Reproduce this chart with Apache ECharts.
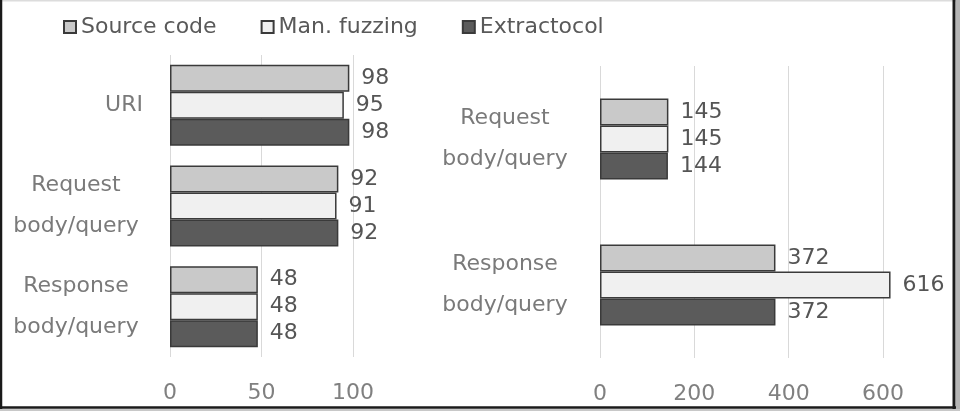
<!DOCTYPE html>
<html>
<head>
<meta charset="utf-8">
<script src="https://cdn.jsdelivr.net/npm/echarts@6/dist/echarts.min.js"></script>
<style>
html,body{margin:0;padding:0;background:#fff;}
#c{width:960px;height:411px;}
</style>
</head>
<body>
<div id="c"></div>
<script>
// ---- data ----
var seriesNames = ['Source code', 'Man. fuzzing', 'Extractocol'];
var leftCategories = ['URI', 'Request\nbody/query', 'Response\nbody/query'];
var leftSource = [98, 92, 48];
var leftManual = [95, 91, 48];
var leftExtract = [98, 92, 48];
var rightCategories = ['Request\nbody/query', 'Response\nbody/query'];
var rightSource = [145, 372];
var rightManual = [145, 616];
var rightExtract = [144, 372];
var leftTicks = {min: 0, max: 100, interval: 50};
var rightTicks = {min: 0, max: 600, interval: 200};

// ---- style ----
var FONT = 'DejaVu Sans';
var FS = 22;
var fills = ['#c9c9c9', '#f0f0f0', '#5b5b5b'];
var leftVals = [leftSource, leftManual, leftExtract];
var rightVals = [rightSource, rightManual, rightExtract];

function catFormatter(v) {
  var lines = v.split('\n');
  if (lines.length === 1) return '{r|' + v + '}';
  return lines.map(function (l) { return '{c|' + l + '}'; }).join('\n');
}
function catAxis(idx, margin) {
  return {
    type: 'category', gridIndex: idx, inverse: true,
    data: idx === 0 ? leftCategories : rightCategories,
    axisLine: {show: false}, axisTick: {show: false},
    axisLabel: {
      align: 'right', margin: margin, formatter: catFormatter,
      color: '#7a7a7a', fontFamily: FONT, fontSize: FS,
      rich: {
        c: {width: 134, align: 'center', lineHeight: 41, color: '#7a7a7a', fontFamily: FONT, fontSize: FS},
        r: {align: 'right', color: '#7a7a7a', fontFamily: FONT, fontSize: FS}
      }
    }
  };
}
function valAxis(idx, t) {
  return {
    type: 'value', gridIndex: idx, min: t.min, max: t.max, interval: t.interval,
    axisLine: {show: false}, axisTick: {show: false},
    splitLine: {show: true, lineStyle: {color: '#d9d9d9', width: 1}},
    axisLabel: {color: '#808080', fontFamily: FONT, fontSize: FS, margin: 25}
  };
}
var series = [];
[leftVals, rightVals].forEach(function (vals, gi) {
  vals.forEach(function (d, si) {
    series.push({
      type: 'bar', name: seriesNames[si], data: d,
      xAxisIndex: gi, yAxisIndex: gi,
      barWidth: 27, barGap: '0%', clip: false,
      itemStyle: {color: fills[si], borderColor: '#3a3a3a', borderWidth: 1.5},
      label: {show: true, position: 'right', distance: 12, color: '#555555', fontFamily: FONT, fontSize: FS},
      animation: false
    });
  });
});

var chart = echarts.init(document.getElementById('c'), null, {renderer: 'canvas'});
chart.setOption({
  animation: false,
  backgroundColor: '#ffffff',
  legend: {
    data: seriesNames, left: 58, top: 11, icon: 'rect', itemWidth: 12, itemHeight: 12, itemGap: 44,
    textStyle: {color: '#595959', fontFamily: FONT, fontSize: FS}
  },
  grid: [
    {left: 170, right: 607, top: 55, bottom: 54},
    {left: 600, right: 77, top: 66, bottom: 53}
  ],
  xAxis: [valAxis(0, leftTicks), valAxis(1, rightTicks)],
  yAxis: [catAxis(0, 27), catAxis(1, 28)],
  series: series,
  graphic: [
    {type: 'line', shape: {x1: 0, y1: 0.5, x2: 956, y2: 0.5}, style: {stroke: '#dcdcdc', lineWidth: 2}, silent: true},
    {type: 'line', shape: {x1: 1, y1: 0, x2: 1, y2: 410}, style: {stroke: '#1a1a1a', lineWidth: 2.5}, silent: true},
    {type: 'line', shape: {x1: 954, y1: 0, x2: 954, y2: 410}, style: {stroke: '#1a1a1a', lineWidth: 3}, silent: true},
    {type: 'line', shape: {x1: 0, y1: 407.5, x2: 956, y2: 407.5}, style: {stroke: '#1a1a1a', lineWidth: 2.5}, silent: true},
    {type: 'rect', shape: {x: 956, y: 0, width: 4, height: 411}, style: {fill: '#b5b5b5'}, silent: true},
    {type: 'rect', shape: {x: 0, y: 409, width: 960, height: 2}, style: {fill: '#c8c8c8'}, silent: true}
  ]
});
</script>
</body>
</html>
